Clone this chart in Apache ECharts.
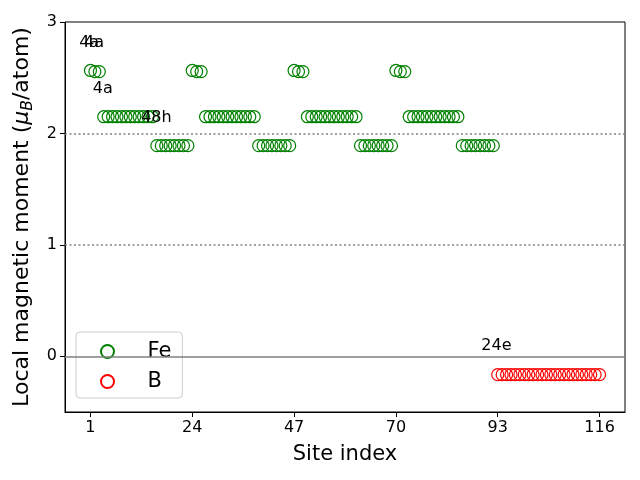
<!DOCTYPE html>
<html>
<head>
<meta charset="utf-8">
<script src="https://cdn.jsdelivr.net/npm/echarts@6/dist/echarts.min.js"></script>
<style>html,body{margin:0;padding:0;background:#fff}#c{width:640px;height:480px}</style>
</head>
<body>
<div id="c"></div>
<script>
// Site indices and local magnetic moments (mu_B/atom)
const feSites = [1,2,3,4,5,6,7,8,9,10,11,12,13,14,15,16,17,18,19,20,21,22,23,
  24,25,26,27,28,29,30,31,32,33,34,35,36,37,38,39,40,41,42,43,44,45,46,
  47,48,49,50,51,52,53,54,55,56,57,58,59,60,61,62,63,64,65,66,67,68,69,
  70,71,72,73,74,75,76,77,78,79,80,81,82,83,84,85,86,87,88,89,90,91,92];
const feMoments = [
  2.565,2.555,2.555, 2.15,2.15,2.15,2.15,2.15,2.15,2.15,2.15,2.15,2.15,2.15,2.15, 1.89,1.89,1.89,1.89,1.89,1.89,1.89,1.89,
  2.565,2.555,2.555, 2.15,2.15,2.15,2.15,2.15,2.15,2.15,2.15,2.15,2.15,2.15,2.15, 1.89,1.89,1.89,1.89,1.89,1.89,1.89,1.89,
  2.565,2.555,2.555, 2.15,2.15,2.15,2.15,2.15,2.15,2.15,2.15,2.15,2.15,2.15,2.15, 1.89,1.89,1.89,1.89,1.89,1.89,1.89,1.89,
  2.565,2.555,2.555, 2.15,2.15,2.15,2.15,2.15,2.15,2.15,2.15,2.15,2.15,2.15,2.15, 1.89,1.89,1.89,1.89,1.89,1.89,1.89,1.89];
const bSites = [93,94,95,96,97,98,99,100,101,102,103,104,105,106,107,108,109,110,111,112,113,114,115,116];
const bMoments = [-0.165,-0.165,-0.165,-0.165,-0.165,-0.165,-0.165,-0.165,-0.165,-0.165,-0.165,-0.165,
  -0.165,-0.165,-0.165,-0.165,-0.165,-0.165,-0.165,-0.165,-0.165,-0.165,-0.165,-0.165];
// Wyckoff annotations
const annoText = ['4a','4a','4a','48h','24e'];
const annoX = [0.7, 1.8, 3.8, 15.9, 92.7];
const annoY = [2.81, 2.81, 2.40, 2.14, 0.09];
// Tick labels
const xTicks = [1,24,47,70,93,116];
const yTicks = [0,1,2,3];
const refLines = [2, 1, 0];

const FONT = 'DejaVu Sans';
const chart = echarts.init(document.getElementById('c'), null, {renderer:'canvas'});
const pairs = (xs, ys) => xs.map((x,i)=>[x, ys[i]]);

const option = {
  backgroundColor: '#fff',
  animation: false,
  textStyle: {fontFamily: FONT},
  grid: {left: 65, top: 22, right: 15, bottom: 68, containLabel: false, outerBoundsMode: 'none',
    show: true, borderColor: '#000', borderWidth: 1, backgroundColor: 'transparent'},
  xAxis: {
    type: 'value', min: -4.75, max: 121.75,
    name: 'Site index', nameLocation: 'middle', nameGap: 32,
    nameTextStyle: {fontSize: 21, color: '#000', fontFamily: FONT},
    axisLine: {show: true, onZero: false, lineStyle: {color: '#000', width: 1}},
    axisTick: {show: true, inside: false, length: 5, customValues: xTicks, lineStyle: {color: '#000'}},
    axisLabel: {customValues: xTicks, fontSize: 16, color: '#000', margin: 8, fontFamily: FONT},
    splitLine: {show: false}
  },
  yAxis: {
    type: 'value', min: -0.5, max: 3,
    name: '{t|Local magnetic moment (}{m|μ}{s|B}{t|/atom)}',
    nameLocation: 'middle', nameGap: 21,
    nameTextStyle: {
      color: '#000', fontFamily: FONT,
      rich: {
        t: {fontSize: 22, fontFamily: FONT, color: '#000', lineHeight: 25, verticalAlign: 'top'},
        m: {fontSize: 22, fontFamily: FONT, fontStyle: 'italic', color: '#000', lineHeight: 25, verticalAlign: 'top'},
        s: {fontSize: 15.5, fontFamily: FONT, fontStyle: 'italic', color: '#000', lineHeight: 15, padding: [12,0,0,0], verticalAlign: 'bottom'}
      }
    },
    axisLine: {show: true, onZero: false, lineStyle: {color: '#000', width: 1}},
    axisTick: {show: true, inside: false, length: 5, customValues: yTicks, lineStyle: {color: '#000'}},
    axisLabel: {customValues: yTicks, fontSize: 16, color: '#000', margin: 8, fontFamily: FONT},
    splitLine: {show: false}
  },
  legend: {
    data: ['Fe', 'B'],
    orient: 'vertical', left: 76, top: 332,
    padding: [9, 11, 6, 24],
    itemWidth: 50, itemHeight: 13, itemGap: 9,
    backgroundColor: 'rgba(255,255,255,0.8)',
    borderColor: '#cccccc', borderWidth: 1, borderRadius: 4,
    textStyle: {fontSize: 21, color: '#000', fontFamily: FONT, padding: [0,0,0,10]}
  },
  series: [
    {
      name: 'Fe', type: 'scatter', data: pairs(feSites, feMoments),
      symbol: 'circle', symbolSize: 12, z: 3,
      itemStyle: {color: 'rgba(0,0,0,0)', borderColor: '#008000', borderWidth: 1.2, opacity: 1},
      markLine: {
        silent: true, symbol: 'none', label: {show: false}, animation: false,
        data: refLines.map(v => ({yAxis: v, lineStyle: v === 0
          ? {type: 'solid', color: '#808080', width: 1.5}
          : {type: [2, 2.5], color: '#808080', width: 1.5}}))
      }
    },
    {
      name: 'B', type: 'scatter', data: pairs(bSites, bMoments),
      symbol: 'circle', symbolSize: 12, z: 3,
      itemStyle: {color: 'rgba(0,0,0,0)', borderColor: '#ff0000', borderWidth: 1.2, opacity: 1}
    },
    {
      name: 'labels', type: 'scatter', silent: true, z: 4,
      data: annoX.map((x,i)=>[x, annoY[i], annoText[i]]),
      symbolSize: 1, itemStyle: {color: 'rgba(0,0,0,0)', opacity: 1},
      label: {show: true, position: 'inside', formatter: p => p.value[2],
        fontSize: 16, color: '#000', fontFamily: FONT}
    }
  ]
};
chart.setOption(option);
</script>
</body>
</html>
